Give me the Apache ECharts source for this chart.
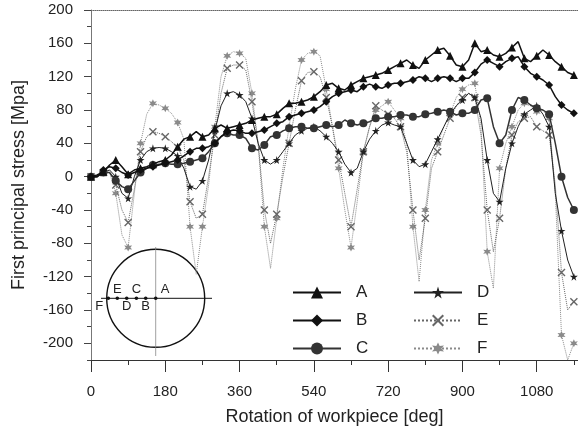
<!DOCTYPE html>
<html>
<head>
<meta charset="utf-8">
<script src="https://cdn.jsdelivr.net/npm/echarts@6/dist/echarts.min.js"></script>
<style>html,body{margin:0;padding:0;background:#fff}#chart{width:578px;height:434px}</style>
</head>
<body>
<div id="chart"></div>
<script>
// rotation angle [deg], one sample each 15 deg
const angle = [0,15,30,45,60,75,90,105,120,135,150,165,180,195,210,225,240,255,270,285,
  300,315,330,345,360,375,390,405,420,435,450,465,480,495,510,525,540,555,570,585,
  600,615,630,645,660,675,690,705,720,735,750,765,780,795,810,825,840,855,870,885,
  900,915,930,945,960,975,990,1005,1020,1035,1050,1065,1080,1095,1110,1125,1140,1155,1170];

const stressA = [0,2,6,14,20,12,3,8,10,12, 15,18,20,26,36,45,48,54,48,50,
  58,62,58,60,62,64,68,70,72,72, 75,82,88,88,90,92,96,102,110,112,
  106,104,110,114,118,120,122,124,128,132, 136,140,134,130,140,146,152,154,145,134,
  132,140,160,150,152,146,144,148,155,162, 142,138,145,152,146,138,132,125,122];
const stressB = [0,0,8,12,10,5,2,5,8,10, 12,14,16,18,20,25,30,34,34,36,
  40,48,54,56,55,52,52,54,56,60, 64,66,72,74,76,78,80,84,90,96,
  100,102,104,102,108,111,108,106,110,112, 112,114,116,120,118,114,118,120,118,114,
  118,118,125,135,140,136,132,138,142,144, 132,124,120,116,110,96,86,80,76];
const stressC = [0,0,5,5,-5,-12,-15,-5,5,10, 14,15,16,15,15,16,18,20,22,30,
  40,48,52,50,50,46,34,32,38,48, 50,55,58,60,60,58,58,60,62,60,
  62,68,64,62,64,66,70,70,72,72, 74,74,72,72,75,76,78,80,78,74,
  76,76,80,92,94,60,40,50,80,95, 92,86,82,80,75,40,0,-25,-40];
const stressD = [0,0,5,8,0,-20,-26,0,20,30, 34,35,34,30,25,10,-12,-15,-5,20,
  55,85,100,102,98,90,70,40,20,15, 20,30,40,50,55,58,60,55,48,40,
  30,15,5,10,30,45,55,62,65,62, 60,40,20,12,15,30,45,60,75,85,
  92,100,95,70,20,-20,-30,10,40,60, 75,80,85,75,60,-20,-65,-100,-120];
const stressE = [0,0,5,5,-10,-40,-55,-15,30,48, 54,52,48,42,35,20,-30,-50,-45,0,
  50,100,130,134,134,128,90,40,-40,-80, -45,0,40,80,115,125,126,120,95,60,
  20,-20,-60,-15,30,60,85,80,75,70, 60,30,-40,-100,-50,10,30,50,70,85,
  95,100,95,50,-40,-90,-50,10,50,66, 70,72,60,55,50,-10,-115,-160,-150];
const stressF = [0,0,5,5,-20,-70,-85,-20,40,75, 88,86,82,76,65,45,-60,-117,-60,-10,
  60,120,145,150,148,142,100,40,-60,-110, -50,10,60,105,140,148,150,145,105,60,
  10,-40,-85,-30,30,60,80,85,90,80, 70,40,-60,-126,-40,20,40,60,75,95,
  105,110,112,60,-90,-134,10,40,60,80, 88,85,78,80,70,-20,-190,-220,-200];

const xLabels = [0,180,360,540,720,900,1080];
const yLabels = [-200,-160,-120,-80,-40,0,40,80,120,160,200];
const pointNames = ['A','B','C','D','E','F'];

const starPath = 'path://M50,0 L61,35 L98,35 L68,57 L79,91 L50,70 L21,91 L32,57 L2,35 L39,35 Z';
const crossPath = 'path://M12,0 L50,38 L88,0 L100,12 L62,50 L100,88 L88,100 L50,62 L12,100 L0,88 L38,50 L0,12 Z';
const gearPath = 'path://M50,0 L62,29 L93,25 L74,50 L93,75 L62,71 L50,100 L38,71 L7,75 L26,50 L7,25 L38,29 Z';

function makeSeries(name, values, symbol, color, lineType, width, z) {
  return {
    name: name,
    type: 'line',
    data: angle.map((a, i) => [a, values[i]]),
    symbol: symbol,
    symbolSize: function (v, p) { return p.dataIndex % 2 === 0 ? 8 : 0; },
    itemStyle: { color: color },
    lineStyle: { color: color, width: width, type: lineType },
    z: z
  };
}

let chart = echarts.init(document.getElementById('chart'));
const font = 'Liberation Sans, Arial, sans-serif';

// inset schematic: circle with measuring points A..F
const cx = 155.7, cy = 298.3;
const dotX = [155.7, 145.7, 136.4, 126.7, 117.3, 108.3];
let graphics = [
  { type: 'circle', shape: { cx: cx, cy: cy, r: 49 }, style: { fill: 'none', stroke: '#111', lineWidth: 1.4 } },
  { type: 'line', shape: { x1: 101, y1: cy, x2: 212, y2: cy }, style: { stroke: '#111', lineWidth: 1 } },
  { type: 'line', shape: { x1: cx, y1: 247, x2: cx, y2: 356 }, style: { stroke: '#888', lineWidth: 0.8 } }
];
dotX.forEach((x, i) => {
  graphics.push({ type: 'circle', shape: { cx: x, cy: cy, r: 1.8 }, style: { fill: '#111' } });
  let up = i % 2 === 0;
  graphics.push({
    type: 'text', x: x + (i === 0 ? 5 : (i === 5 ? -5 : 0)), y: up ? cy - 2 : cy + 2,
    style: { text: pointNames[i], font: '13px ' + font, fill: '#222',
      align: i === 0 ? 'left' : (i === 5 ? 'right' : 'center'), verticalAlign: up ? 'bottom' : 'top' }
  });
});

option = {
  backgroundColor: '#fff',
  animation: false,
  textStyle: { fontFamily: font },
  grid: { left: 91, right: 0, top: 10, bottom: 74 },
  legend: [{
    data: ['A', 'B', 'C'],
    orient: 'vertical', left: 287, top: 279,
    itemWidth: 48, itemHeight: 15, itemGap: 11,
    textStyle: { fontSize: 17, color: '#222', padding: [0, 0, 0, 10] }
  }, {
    data: ['D', 'E', 'F'],
    orient: 'vertical', left: 408, top: 279,
    itemWidth: 48, itemHeight: 15, itemGap: 11,
    textStyle: { fontSize: 17, color: '#222', padding: [0, 0, 0, 10] }
  }],
  xAxis: [{
    type: 'value', min: 0, max: 1180, interval: 90, position: 'bottom',
    name: 'Rotation of workpiece [deg]', nameLocation: 'middle', nameGap: 48,
    nameTextStyle: { fontSize: 18, color: '#222' },
    axisLine: { onZero: false, lineStyle: { color: '#333', width: 1 } },
    axisTick: { length: 5, lineStyle: { color: '#333' } },
    axisLabel: { customValues: xLabels, margin: 24, fontSize: 15, color: '#222',
      formatter: v => String(v) },
    splitLine: { show: false }
  }, {
    type: 'value', min: 0, max: 1180, position: 'bottom',
    axisLine: { show: false, onZero: false },
    axisTick: { customValues: xLabels, length: 12, lineStyle: { color: '#333' } },
    axisLabel: { show: false },
    splitLine: { show: false }
  }, {
    type: 'value', min: 0, max: 1180, position: 'top',
    axisLine: { onZero: false, lineStyle: { color: '#666', type: 'dotted' } },
    axisTick: { show: false }, axisLabel: { show: false }, splitLine: { show: false }
  }],
  yAxis: [{
    type: 'value', min: -220, max: 200, interval: 20, position: 'left',
    name: 'First principal stress [Mpa]', nameLocation: 'middle', nameGap: 63,
    nameTextStyle: { fontSize: 18, color: '#222' },
    axisLine: { show: true, onZero: false, lineStyle: { color: '#777', width: 1 } },
    axisTick: { show: true, length: 4, lineStyle: { color: '#444' } },
    axisLabel: { customValues: yLabels, margin: 18, fontSize: 15, color: '#222' },
    splitLine: { show: false }
  }, {
    type: 'value', min: -220, max: 200, position: 'left',
    axisLine: { show: false, onZero: false },
    axisTick: { show: true, customValues: yLabels, length: 7, lineStyle: { color: '#444' } },
    axisLabel: { show: false },
    splitLine: { show: false }
  }],
  graphic: graphics,
  series: [
    makeSeries('A', stressA, 'triangle', '#111', 'solid', 1.5, 6),
    makeSeries('B', stressB, 'diamond', '#111', 'solid', 1.5, 5),
    makeSeries('C', stressC, 'circle', '#333', 'solid', 1.5, 4),
    makeSeries('D', stressD, starPath, '#222', 'solid', 1, 3),
    makeSeries('E', stressE, crossPath, '#666', 'dotted', 1, 2),
    makeSeries('F', stressF, gearPath, '#8a8a8a', 'dotted', 1, 1)
  ]
};

chart.setOption(option);

window.onresize = function () {
  chart.resize();
};
</script>
</body>
</html>
